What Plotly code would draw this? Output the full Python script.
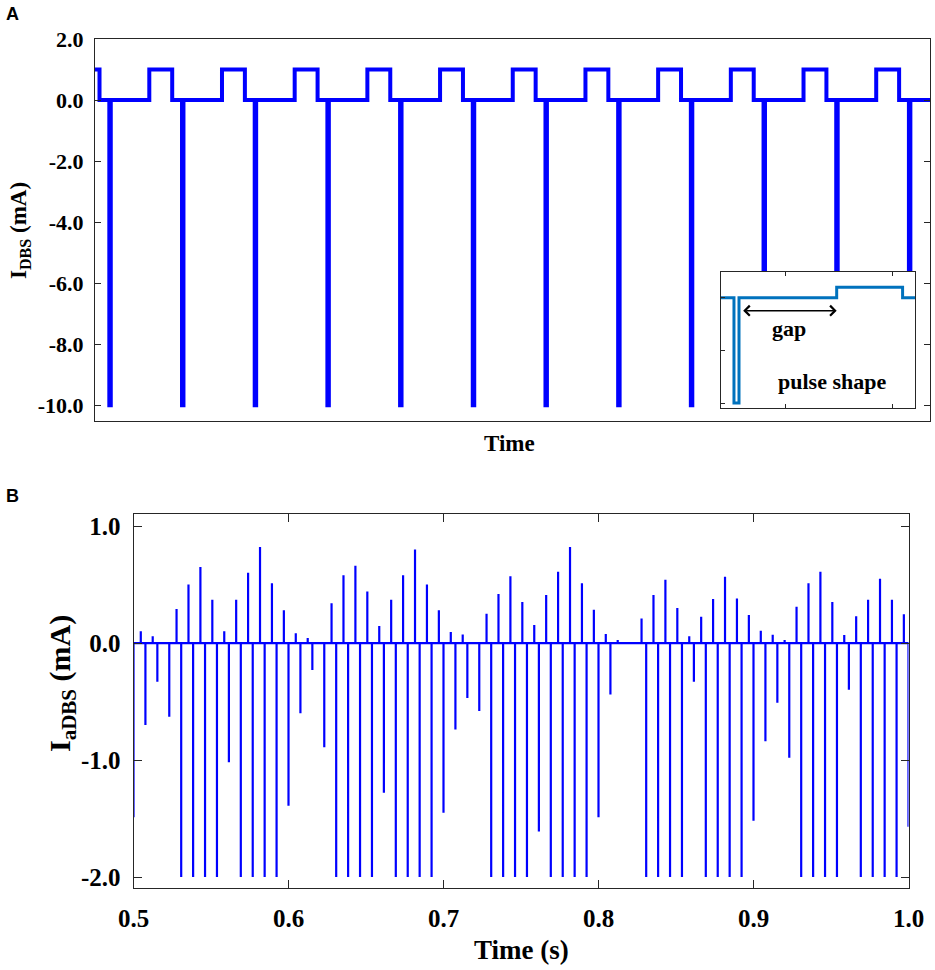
import plotly.graph_objects as go

W, H = 935, 970

# ---------------- Panel A: conventional DBS pulse train ----------------
# one period of the waveform (phase in units of one period, current in mA)
a_phase = [0.0, 0.0, 0.02, 0.02, 0.55, 0.55, 0.865, 0.865]
a_level = [0.0, -10.0, -10.0, 0.0, 0.0, 1.0, 1.0, 0.0]
a_periods = list(range(-1, 12))
a_yticks = [2, 0, -2, -4, -6, -8, -10]
a_yticklabels = ["2.0", "0.0", "-2.0", "-4.0", "-6.0", "-8.0", "-10.0"]

# inset: single pulse shape
inset_t = [0.39, 0.514, 0.514, 0.561, 0.561, 1.474, 1.474, 2.09, 2.09, 2.25]
inset_i = [0.0, 0.0, -10.0, -10.0, 0.0, 0.0, 1.0, 1.0, 0.0, 0.0]

# ---------------- Panel B: amplitude-modulated DBS ----------------
b_freq = 130.0          # pulses per second
b_t0 = 0.5              # first pulse (s)
b_pos_delay = 0.0047    # delay of positive phase after negative phase (s)
b_neg = [-1.49, -0.70, -0.33, -0.63, -2, -2, -2, -2, -1.02, -2,
         -2, -2, -2, -1.39, -0.60, -0.23, -0.89, -2, -2, -2,
         -2, -1.28, -2, -2, -2, -2, -1.45, -0.74, -0.47, -0.58,
         -2, -2, -2, -2, -1.61, -2, -2, -2, -2, -1.49,
         -0.44, 0.0, 0.0, -2, -2, -2, -2, -0.33, -2, -2,
         -2, -2, -1.52, -0.84, -0.51, -0.98, -2, -2, -2, -2,
         -0.40, -2, -2, -2, -2, -1.57]
b_pos = [0.10, 0.057, 0.0, 0.29, 0.50, 0.65, 0.37, 0.10, 0.37, 0.60,
         0.82, 0.51, 0.28, 0.083, 0.043, 0.0, 0.34, 0.58, 0.66, 0.44,
         0.145, 0.37, 0.58, 0.80, 0.50, 0.28, 0.094, 0.074, 0.0, 0.25,
         0.42, 0.57, 0.35, 0.154, 0.41, 0.61, 0.82, 0.51, 0.285, 0.077,
         0.026, 0.0, 0.21, 0.41, 0.54, 0.30, 0.057, 0.225, 0.376, 0.567,
         0.38, 0.24, 0.105, 0.071, 0.026, 0.31, 0.51, 0.61, 0.35, 0.068,
         0.228, 0.37, 0.55, 0.37, 0.245]
b_xticks = [0.5, 0.6, 0.7, 0.8, 0.9, 1.0]
b_xticklabels = ["0.5", "0.6", "0.7", "0.8", "0.9", "1.0"]
b_yticks = [1, 0, -1, -2]
b_yticklabels = ["1.0", "0.0", "-1.0", "-2.0"]

# ---------------- build traces ----------------
ax, ay = [], []
for k in a_periods:
    for p, lv in zip(a_phase, a_level):
        ax.append(k + p)
        ay.append(lv)

events = []
for k, v in enumerate(b_neg):
    events.append((b_t0 + k / b_freq, v))
for k, v in enumerate(b_pos):
    events.append((b_t0 + k / b_freq + b_pos_delay, v))
events.sort()
bx, by = [b_t0], [0.0]
for t, v in events:
    bx += [t, t, t]
    by += [0.0, v, 0.0]
bx.append(1.0)
by.append(0.0)


def px(v):
    return v / W


def py(v):
    return 1 - v / H


SERIF = "Liberation Serif"
AXC = "#262626"

fig = go.Figure()
fig.add_trace(go.Scatter(x=ax, y=ay, mode="lines", xaxis="x", yaxis="y",
                         line=dict(color="#0000FF", width=4), showlegend=False,
                         hoverinfo="skip"))
fig.add_trace(go.Scatter(x=bx, y=by, mode="lines", xaxis="x2", yaxis="y2",
                         line=dict(color="#0000FF", width=2.2), showlegend=False,
                         hoverinfo="skip"))
fig.add_trace(go.Scatter(x=inset_t, y=inset_i, mode="lines", xaxis="x3", yaxis="y3",
                         line=dict(color="#0072BD", width=3), showlegend=False,
                         hoverinfo="skip"))

tick_a = dict(family=SERIF, size=22, color="black", weight="bold")
tick_b = dict(family=SERIF, size=25, color="black", weight="bold")

fig.update_layout(
    width=W, height=H,
    margin=dict(l=0, r=0, t=0, b=0, autoexpand=False),
    paper_bgcolor="white", plot_bgcolor="white",
    xaxis=dict(domain=[px(95), px(930)], range=[-0.197, 11.29], anchor="y",
               showticklabels=False, ticks="", showgrid=False, zeroline=False,
               showline=True, linecolor=AXC, linewidth=1, mirror=True,
               automargin=False),
    yaxis=dict(domain=[py(421), py(39)], range=[-10.52, 2.0], anchor="x",
               tickvals=a_yticks, ticktext=a_yticklabels, ticks="inside",
               ticklen=6, tickcolor=AXC, tickfont=tick_a, showgrid=False,
               zeroline=False, showline=True, linecolor=AXC, linewidth=1,
               mirror="ticks", ticklabelstandoff=6, automargin=False),
    xaxis2=dict(domain=[px(133.5), px(908.5)], range=[0.5, 1.0], anchor="y2",
                tickvals=b_xticks, ticktext=b_xticklabels, ticks="inside",
                ticklen=8, tickcolor=AXC, tickfont=tick_b, showgrid=False,
                zeroline=False, showline=True, linecolor=AXC, linewidth=1,
                mirror="ticks", ticklabelstandoff=8, automargin=False),
    yaxis2=dict(domain=[py(888), py(514)], range=[-2.094, 1.103], anchor="x2",
                tickvals=b_yticks, ticktext=b_yticklabels, ticks="inside",
                ticklen=8, tickcolor=AXC, tickfont=tick_b, showgrid=False,
                zeroline=False, showline=True, linecolor=AXC, linewidth=1,
                mirror="ticks", ticklabelstandoff=7, automargin=False),
    xaxis3=dict(domain=[px(720.7), px(915)], range=[0.39, 2.206], anchor="y3",
                dtick=1, ticks="inside", ticklen=4, tickcolor=AXC,
                showticklabels=False, showgrid=False, zeroline=False,
                showline=True, linecolor=AXC, linewidth=1, mirror="ticks",
                automargin=False),
    yaxis3=dict(domain=[py(408), py(271.7)], range=[-10.47, 2.47], anchor="x3",
                dtick=5, ticks="inside", ticklen=4, tickcolor=AXC,
                showticklabels=False, showgrid=False, zeroline=False,
                showline=True, linecolor=AXC, linewidth=1, mirror=True,
                automargin=False),
)

ann = []
# panel letters
ann.append(dict(text="A", x=px(4), y=py(14), xref="paper", yref="paper",
                xanchor="left", yanchor="middle", showarrow=False,
                font=dict(family="Liberation Sans", size=18, color="black", weight="bold")))
ann.append(dict(text="B", x=px(4), y=py(496), xref="paper", yref="paper",
                xanchor="left", yanchor="middle", showarrow=False,
                font=dict(family="Liberation Sans", size=18, color="black", weight="bold")))
# axis titles
ann.append(dict(text="Time", x=px(510), y=py(444), xref="paper", yref="paper",
                xanchor="center", yanchor="middle", showarrow=False,
                font=dict(family=SERIF, size=23, color="black", weight="bold")))
ann.append(dict(text="I<sub>DBS</sub> (mA)", x=px(20), y=py(231), xref="paper", yref="paper",
                xanchor="center", yanchor="middle", showarrow=False, textangle=-90,
                font=dict(family=SERIF, size=23, color="black", weight="bold")))
ann.append(dict(text="Time (s)", x=px(521), y=py(950), xref="paper", yref="paper",
                xanchor="center", yanchor="middle", showarrow=False,
                font=dict(family=SERIF, size=27, color="black", weight="bold")))
ann.append(dict(text="I<sub>aDBS</sub> (mA)", x=px(62), y=py(684), xref="paper", yref="paper",
                xanchor="center", yanchor="middle", showarrow=False, textangle=-90,
                font=dict(family=SERIF, size=30, color="black", weight="bold")))
# inset annotations
ann.append(dict(text="", x=1.474, y=-1.23, ax=0.586, ay=-1.23, xref="x3", yref="y3",
                axref="x3", ayref="y3", showarrow=True, arrowhead=4, startarrowhead=4,
                arrowside="end+start", arrowsize=1.3, startarrowsize=1.3,
                arrowwidth=1.5, arrowcolor="black", standoff=0, startstandoff=0))
ann.append(dict(text="gap", x=1.028, y=-2.88, xref="x3", yref="y3",
                xanchor="center", yanchor="middle", showarrow=False,
                font=dict(family=SERIF, size=22, color="black", weight="bold")))
ann.append(dict(text="pulse shape", x=1.427, y=-7.98, xref="x3", yref="y3",
                xanchor="center", yanchor="middle", showarrow=False,
                font=dict(family=SERIF, size=22, color="black", weight="bold")))
fig.update_layout(annotations=ann)

fig.write_html("out.html",
               config={"displayModeBar": False},
               post_script="document.body.style.margin='0px';"
                           "document.body.style.overflow='hidden';")
